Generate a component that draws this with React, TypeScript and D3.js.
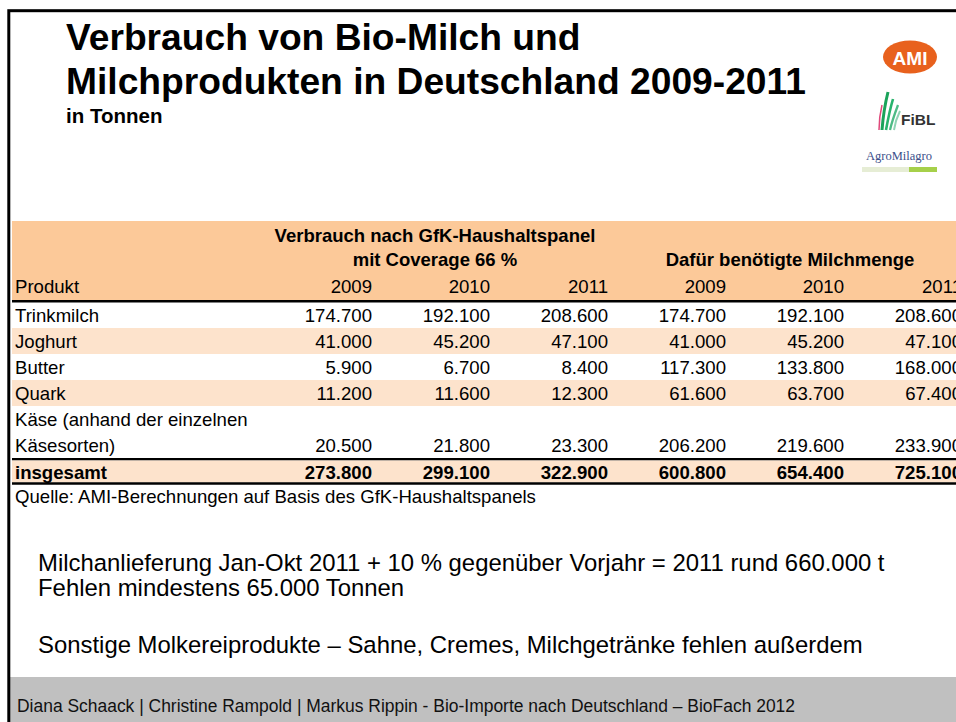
import React from "react";
import * as d3 from "d3";

const titleLines = ["Verbrauch von Bio-Milch und", "Milchprodukten in Deutschland 2009-2011"];
const subtitle = "in Tonnen";
const groupHeader1 = ["Verbrauch nach GfK-Haushaltspanel", "mit Coverage 66 %"];
const groupHeader2 = "Dafür benötigte Milchmenge";
const productHeader = "Produkt";
const years = ["2009", "2010", "2011", "2009", "2010", "2011"];
const products = ["Trinkmilch", "Joghurt", "Butter", "Quark", "Käse (anhand der einzelnen\nKäsesorten)"];
const gfk2009 = [174700, 41000, 5900, 11200, 20500];
const gfk2010 = [192100, 45200, 6700, 11600, 21800];
const gfk2011 = [208600, 47100, 8400, 12300, 23300];
const milk2009 = [174700, 41000, 117300, 61600, 206200];
const milk2010 = [192100, 45200, 133800, 63700, 219600];
const milk2011 = [208600, 47100, 168000, 67400, 233900];
const totalLabel = "insgesamt";
const totals = [273800, 299100, 322900, 600800, 654400, 725100];
const source = "Quelle: AMI-Berechnungen auf Basis des GfK-Haushaltspanels";
const notes = [
  "Milchanlieferung Jan-Okt 2011 + 10 % gegenüber Vorjahr = 2011 rund 660.000 t",
  "Fehlen mindestens 65.000 Tonnen",
  "",
  "Sonstige Molkereiprodukte – Sahne, Cremes, Milchgetränke fehlen außerdem",
];
const footer = "Diana Schaack | Christine Rampold | Markus Rippin - Bio-Importe nach Deutschland – BioFach 2012";

const de = d3.formatLocale({ decimal: ",", thousands: ".", grouping: [3], currency: ["", " €"] });
const fmt = de.format(",.0f");

const FONT = "'Liberation Sans', Arial, Helvetica, sans-serif";
const HEAD_BG = "#fcc999";
const ALT_BG = "#fde3cc";

export default function App() {
  const W = 956;
  const H = 722;
  const series = [gfk2009, gfk2010, gfk2011, milk2009, milk2010, milk2011];
  const colX = d3.scaleLinear().domain([0, 5]).range([372, 962]);

  const lineH = 26;
  const rows = products.map((p, i) => ({ label: p.split("\n"), values: series.map((s) => s[i]) }));
  const tableTop = 302;
  let y = tableTop;
  const rowPos = rows.map((r) => {
    const h = r.label.length * lineH;
    const o = { y0: y, h };
    y += h;
    return o;
  });
  const totalTop = y + 2.5;
  const totalH = 23;

  return (
    <div style={{ position: "fixed", left: 0, top: 0, width: W, height: H, background: "#fff" }}>
      <svg width={W} height={H} style={{ display: "block" }} fontFamily={FONT}>
        <rect x={0} y={0} width={W} height={H} fill="#fff" />
        {/* footer band */}
        <rect x={10} y={677} width={W - 10} height={H - 677} fill="#c0c0c0" />
        <text
          x={17}
          y={712}
          fontSize={17.5}
          fill="#111"
          fontFamily="'Liberation Sans Narrow', 'Liberation Sans', Arial, sans-serif"
          textLength={778}
          lengthAdjust="spacingAndGlyphs"
        >
          {footer}
        </text>
        {/* frame */}
        <rect x={8.8} y={10.7} width={W + 20} height={H + 20} fill="none" stroke="#000" strokeWidth={3} />

        {/* title */}
        {titleLines.map((t, i) => (
          <text key={i} x={66} y={50 + i * 44} fontSize={37.2} fontWeight="bold" fill="#000">
            {t}
          </text>
        ))}
        <text x={66} y={123} fontSize={20.5} fontWeight="bold" fill="#000">
          {subtitle}
        </text>

        {/* logos */}
        <g>
          <ellipse cx={910} cy={57} rx={27} ry={16.5} fill="#e8611d" />
          <text x={910} y={64.5} textAnchor="middle" fontSize={19} fontWeight="bold" fill="#fff">
            AMI
          </text>
        </g>
        <g>
          <path d="M882,130 C883,117 885,104 888,92" stroke="#1aa35a" strokeWidth={3} fill="none" />
          <path d="M886,130 C888,119 890,109 893,99" stroke="#27b36c" strokeWidth={2.6} fill="none" />
          <path d="M890,130 C892,121 895,113 898,105" stroke="#4dbb85" strokeWidth={2.3} fill="none" />
          <path d="M894,130 C895,123 897,117 900,111" stroke="#8fd3b4" strokeWidth={2} fill="none" />
          <path d="M879,130 C879,121 880,113 882,105" stroke="#e0497b" strokeWidth={1.5} fill="none" />
          <text x={901} y={125} fontSize={15.5} fontWeight="bold" fill="#333">
            FiBL
          </text>
        </g>
        <g>
          <text x={899} y={160} textAnchor="middle" fontSize={12.5} fontFamily="'Liberation Serif', 'DejaVu Serif', serif" fill="#3b4f8a">
            AgroMilagro
          </text>
          <rect x={862} y={167} width={75} height={5} fill="#e6edd5" />
          <rect x={909} y={167} width={28} height={5} fill="#a6d04a" />
        </g>

        {/* table header */}
        <rect x={12} y={221} width={W - 12} height={79} fill={HEAD_BG} />
        {groupHeader1.map((t, i) => (
          <text key={i} x={435} y={242 + i * 23.5} textAnchor="middle" fontSize={18.5} fontWeight="bold" fill="#000">
            {t}
          </text>
        ))}
        <text x={790} y={265.5} textAnchor="middle" fontSize={18.5} fontWeight="bold" fill="#000">
          {groupHeader2}
        </text>
        <text x={15} y={293} fontSize={18.6} fill="#000">
          {productHeader}
        </text>
        {years.map((yr, j) => (
          <text key={j} x={colX(j)} y={293} textAnchor="end" fontSize={18.6} fill="#000">
            {yr}
          </text>
        ))}
        <line x1={12} x2={W} y1={301.2} y2={301.2} stroke="#000" strokeWidth={2.6} />

        {/* body rows */}
        {rows.map((r, i) => {
          const p = rowPos[i];
          const lastBase = p.y0 + p.h - 6;
          return (
            <g key={i}>
              {i % 2 === 1 && <rect x={12} y={p.y0} width={W - 12} height={p.h} fill={ALT_BG} />}
              {r.label.map((l, k) => (
                <text key={k} x={15} y={p.y0 + (k + 1) * lineH - 6} fontSize={18.6} fill="#000">
                  {l}
                </text>
              ))}
              {r.values.map((v, j) => (
                <text key={j} x={colX(j)} y={lastBase} textAnchor="end" fontSize={18.6} fill="#000">
                  {fmt(v)}
                </text>
              ))}
            </g>
          );
        })}

        {/* total row */}
        <line x1={12} x2={W} y1={y + 1.2} y2={y + 1.2} stroke="#000" strokeWidth={2.6} />
        <rect x={12} y={totalTop} width={W - 12} height={totalH - 1} fill={ALT_BG} />
        <text x={15} y={totalTop + 18} fontSize={18.6} fontWeight="bold" fill="#000">
          {totalLabel}
        </text>
        {totals.map((v, j) => (
          <text key={j} x={colX(j)} y={totalTop + 18} textAnchor="end" fontSize={18.6} fontWeight="bold" fill="#000">
            {fmt(v)}
          </text>
        ))}
        <line x1={12} x2={W} y1={totalTop + totalH} y2={totalTop + totalH} stroke="#000" strokeWidth={2.4} />

        <text x={15} y={503} fontSize={18.6} fill="#000">
          {source}
        </text>

        {/* notes */}
        {notes.map((n, i) =>
          n ? (
            <text key={i} x={38} y={571 + i * 25 + (i >= 3 ? 7 : 0)} fontSize={23.9} fill="#000">
              {n}
            </text>
          ) : null
        )}
      </svg>
    </div>
  );
}
